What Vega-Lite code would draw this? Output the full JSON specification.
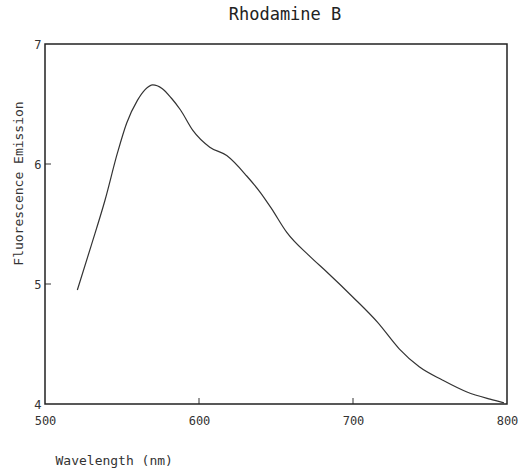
{
  "$schema": "https://vega.github.io/schema/vega-lite/v6.json",
  "width": 462,
  "height": 360,
  "autosize": {"type": "none"},
  "padding": {"left": 45, "top": 44, "right": 12, "bottom": 64},
  "background": "white",
  "title": {"text": "Rhodamine B", "font": "DejaVu Sans Mono", "fontSize": 17, "fontWeight": "normal", "color": "#222", "offset": 14, "dx": 9},
  "config": {
    "view": {"stroke": "#222", "strokeWidth": 1.5},
    "axis": {"grid": false, "domain": false, "ticks": false, "labelFlush": false, "labelFont": "DejaVu Sans Mono", "titleFont": "DejaVu Sans Mono", "labelFontSize": 12, "titleFontSize": 13, "titleFontWeight": "normal", "labelColor": "#333", "titleColor": "#333"}
  },
  "datasets": {
    "spectrum": [
      {"wavelength": 521, "emission": 4.95},
      {"wavelength": 530, "emission": 5.32},
      {"wavelength": 539, "emission": 5.70},
      {"wavelength": 547, "emission": 6.09},
      {"wavelength": 553, "emission": 6.34},
      {"wavelength": 560, "emission": 6.53},
      {"wavelength": 565, "emission": 6.62},
      {"wavelength": 570, "emission": 6.66},
      {"wavelength": 576, "emission": 6.63},
      {"wavelength": 582, "emission": 6.55},
      {"wavelength": 588, "emission": 6.45},
      {"wavelength": 596, "emission": 6.28},
      {"wavelength": 607, "emission": 6.14},
      {"wavelength": 618, "emission": 6.07},
      {"wavelength": 631, "emission": 5.90},
      {"wavelength": 640, "emission": 5.76},
      {"wavelength": 647, "emission": 5.63},
      {"wavelength": 657, "emission": 5.43},
      {"wavelength": 672, "emission": 5.23},
      {"wavelength": 683, "emission": 5.10},
      {"wavelength": 700, "emission": 4.89},
      {"wavelength": 716, "emission": 4.68},
      {"wavelength": 730, "emission": 4.46},
      {"wavelength": 743, "emission": 4.31},
      {"wavelength": 758, "emission": 4.20},
      {"wavelength": 774, "emission": 4.10},
      {"wavelength": 789, "emission": 4.04},
      {"wavelength": 798, "emission": 4.01}
    ],
    "xticks": [{"wavelength": 600}, {"wavelength": 700}],
    "yticks": [{"emission": 5}, {"emission": 6}]
  },
  "layer": [
    {
      "data": {"name": "spectrum"},
      "mark": {"type": "line", "color": "#333", "strokeWidth": 1.2, "interpolate": "monotone"},
      "encoding": {
        "x": {"field": "wavelength", "type": "quantitative", "scale": {"domain": [500, 800], "nice": false, "zero": false},
          "axis": {"values": [500, 600, 700, 800], "title": "Wavelength (nm)", "titleX": 10, "titleY": 56, "titleAlign": "left", "titleBaseline": "middle", "labelPadding": 11}},
        "y": {"field": "emission", "type": "quantitative", "scale": {"domain": [4, 7], "nice": false, "zero": false},
          "axis": {"values": [4, 5, 6, 7], "format": "d", "title": "Fluorescence Emission", "titleX": -27, "titleY": 139, "titleAlign": "center", "titleBaseline": "middle", "labelPadding": 4}}
      }
    },
    {
      "data": {"name": "xticks"},
      "mark": {"type": "tick", "orient": "vertical", "size": 6, "thickness": 1.3, "yOffset": -3, "color": "#222"},
      "encoding": {
        "x": {"field": "wavelength", "type": "quantitative"},
        "y": {"datum": 4, "type": "quantitative"}
      }
    },
    {
      "data": {"name": "yticks"},
      "mark": {"type": "tick", "orient": "horizontal", "size": 6, "thickness": 1.3, "xOffset": 3, "color": "#222"},
      "encoding": {
        "x": {"datum": 500, "type": "quantitative"},
        "y": {"field": "emission", "type": "quantitative"}
      }
    }
  ]
}
